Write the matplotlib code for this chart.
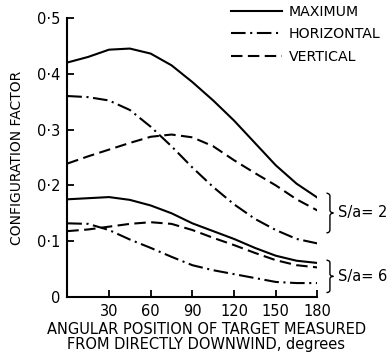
import numpy as np
import matplotlib
matplotlib.use('Agg')
import matplotlib.pyplot as plt
from matplotlib.path import Path
from matplotlib.patches import PathPatch

# angle of target from directly downwind, degrees
theta = [0, 15, 30, 45, 60, 75, 90, 105, 120, 135, 150, 165, 180]

# S/a = 2
max_2   = [0.420, 0.430, 0.443, 0.445, 0.436, 0.415, 0.385, 0.352, 0.316, 0.276, 0.236, 0.203, 0.178]
horiz_2 = [0.360, 0.358, 0.352, 0.335, 0.305, 0.270, 0.232, 0.197, 0.166, 0.140, 0.120, 0.104, 0.096]
vert_2  = [0.239, 0.252, 0.264, 0.276, 0.287, 0.291, 0.286, 0.270, 0.245, 0.222, 0.200, 0.175, 0.155]

# S/a = 6
max_6   = [0.175, 0.177, 0.179, 0.174, 0.164, 0.150, 0.132, 0.118, 0.104, 0.088, 0.074, 0.065, 0.061]
horiz_6 = [0.132, 0.131, 0.120, 0.103, 0.088, 0.072, 0.057, 0.048, 0.041, 0.034, 0.027, 0.025, 0.025]
vert_6  = [0.118, 0.121, 0.126, 0.131, 0.134, 0.131, 0.120, 0.106, 0.093, 0.079, 0.066, 0.057, 0.053]

x_ticks = [30, 60, 90, 120, 150, 180]
y_ticks = [0, 0.1, 0.2, 0.3, 0.4, 0.5]
y_labels = ['0', '0·1', '0·2', '0·3', '0·4', '0·5']

LW = 1.5
STYLE = {'max': '-', 'horiz': (0, (7, 2.2, 1, 2.2)), 'vert': (0, (5.5, 2.6))}

plt.rcParams['font.family'] = ['DejaVu Sans']
fig = plt.figure(figsize=(3.89, 3.57), dpi=100)
ax = fig.add_axes([0.173, 0.168, 0.643, 0.782])

l1, = ax.plot(theta, max_2, color='black', lw=LW, ls=STYLE['max'], label='MAXIMUM')
l2, = ax.plot(theta, horiz_2, color='black', lw=LW, ls=STYLE['horiz'], label='HORIZONTAL')
l3, = ax.plot(theta, vert_2, color='black', lw=LW, ls=STYLE['vert'], label='VERTICAL')
ax.plot(theta, max_6, color='black', lw=LW, ls=STYLE['max'])
ax.plot(theta, horiz_6, color='black', lw=LW, ls=STYLE['horiz'])
ax.plot(theta, vert_6, color='black', lw=LW, ls=STYLE['vert'])

ax.set_xlim(0, 180)
ax.set_ylim(0, 0.5)
ax.set_xticks(x_ticks)
ax.set_yticks(y_ticks)
ax.set_yticklabels(y_labels)
ax.tick_params(direction='in', length=5, width=1.3, labelsize=10.5, pad=5)
for s in ['top', 'right']:
    ax.spines[s].set_visible(False)
for s in ['left', 'bottom']:
    ax.spines[s].set_linewidth(1.5)

ax.set_ylabel('CONFIGURATION FACTOR', fontsize=10, labelpad=9)
ax.set_xlabel('ANGULAR POSITION OF TARGET MEASURED\nFROM DIRECTLY DOWNWIND, degrees',
              fontsize=10.5, linespacing=1.05)
ax.xaxis.set_label_coords(0.556, -0.088)

leg = fig.legend(handles=[l1, l2, l3], loc='upper right', bbox_to_anchor=(0.992, 1.003),
                 frameon=False, fontsize=10.2, handlelength=3.6, handletextpad=0.5,
                 labelspacing=0.62, borderaxespad=0)


def brace(ax, x, y0, y1, w=2.5, tip=2.5):
    # curly brace opening to the left, tip pointing right
    ym = (y0 + y1) / 2
    dy = (y1 - y0) * 0.08
    verts = [(x - w, y0), (x, y0), (x, y0 + dy),
             (x, ym - dy),
             (x, ym), (x + tip, ym), (x + tip, ym),
             (x + tip, ym), (x, ym), (x, ym + dy),
             (x, y1 - dy),
             (x, y1), (x - w, y1), (x - w, y1)]
    codes = [Path.MOVETO, Path.CURVE3, Path.CURVE3,
             Path.LINETO,
             Path.CURVE4, Path.CURVE4, Path.CURVE4,
             Path.CURVE4, Path.CURVE4, Path.CURVE4,
             Path.LINETO,
             Path.CURVE4, Path.CURVE4, Path.CURVE4]
    ax.add_patch(PathPatch(Path(verts, codes), fill=False, lw=1.0,
                           color='black', clip_on=False))
    return ym


ym2 = brace(ax, 189, 0.115, 0.186)
ax.text(194.5, ym2, 'S/a= 2', fontsize=10.5, va='center', ha='left', clip_on=False)
ym6 = brace(ax, 189, 0.008, 0.066)
ax.text(194.5, ym6, 'S/a= 6', fontsize=10.5, va='center', ha='left', clip_on=False)

fig.savefig('out.png', dpi=100)
